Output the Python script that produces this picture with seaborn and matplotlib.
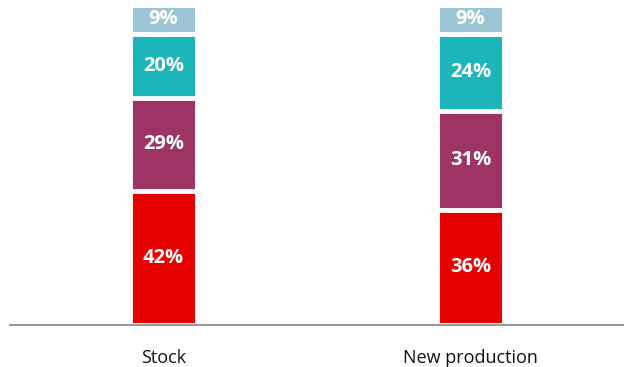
import numpy as np
import pandas as pd
import seaborn as sns
import matplotlib.pyplot as plt

categories = ["Stock", "New production"]
segments = ["red", "purple", "teal", "lightblue"]
red = [42, 36]
purple = [29, 31]
teal = [20, 24]
lightblue = [9, 9]
colors = ["#E60000", "#9E3466", "#1CB5B9", "#9CC5D6"]

sns.set_style("white")
plt.rcParams['font.family'] = ['Open Sans', 'DejaVu Sans']

values = np.array([red, purple, teal, lightblue])
tops = values.cumsum(axis=0)

fig = plt.figure(figsize=(6.24, 3.67), dpi=100)
ax = fig.add_axes([10 / 624, 42 / 367, 1 - 10 / 624, (325 - 5) / 367])

# draw tallest first so each layer sits on top of the previous one
for k in range(len(segments) - 1, -1, -1):
    df = pd.DataFrame({"cat": categories, "val": tops[k]})
    sns.barplot(data=df, x="cat", y="val", color=colors[k], width=0.22,
                edgecolor="white", linewidth=3.5, saturation=1, ax=ax)

for k in range(len(segments)):
    for i in range(len(categories)):
        mid = tops[k][i] - values[k][i] / 2
        ax.text(i, mid, f"{values[k][i]}%", ha="center", va="center",
                color="white", fontsize=14.5, fontweight="bold")

ax.set_xlim(-0.5, 1.5)
ax.set_ylim(0, 100)
ax.set_xlabel("")
ax.set_ylabel("")
ax.set_yticks([])
sns.despine(ax=ax, left=True, right=True, top=True)
ax.spines["bottom"].set_color("#9a9a9a")
ax.spines["bottom"].set_linewidth(1.5)
ax.tick_params(axis="x", length=0, pad=17, labelsize=13, labelcolor="#111111")

fig.savefig("out.png", dpi=100)
